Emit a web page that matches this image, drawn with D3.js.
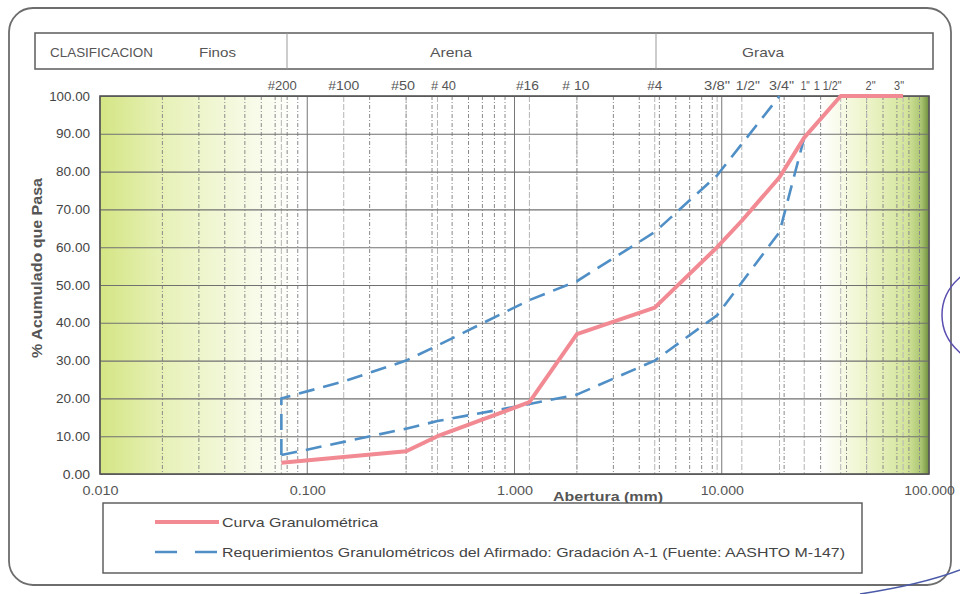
<!DOCTYPE html>
<html>
<head>
<meta charset="utf-8">
<script src="https://cdn.jsdelivr.net/npm/d3@7"></script>
<style>
  body { margin: 0; background: #fff; }
  svg { display: block; font-family: "Liberation Sans", Arial, sans-serif; }
</style>
</head>
<body>
<div id="chart"></div>
<script>
// sieve sizes (mm) and their names along the top
var sieveLabels = ["#200", "#100", "#50", "# 40", "#16", "# 10", "#4", "3/8\"", "1/2\"", "3/4\"", "1\"", "1 1/2\"", "2\"", "3\""];
var sieveSizes = [0.075, 0.15, 0.3, 0.425, 1.18, 2.0, 4.75, 9.5, 12.5, 19, 25, 37.5, 50, 75];

// Curva Granulometrica
var curveSizes = [0.075, 0.15, 0.3, 0.425, 1.18, 2.0, 4.75, 9.5, 12.5, 19, 25, 37.5, 50, 75];
var curvePass = [3.0, 4.5, 6.0, 10.0, 19.0, 37.0, 44.0, 60.0, 67.0, 78.5, 89.0, 100, 100, 100];

// Requerimientos (upper and lower limits)
var upperSizes = [0.075, 0.075, 0.15, 0.3, 0.425, 1.18, 2.0, 4.75, 9.5, 19];
var upperPass = [5, 20, 24.5, 30, 34, 46, 51, 64, 79, 100];
var lowerSizes = [0.075, 0.15, 0.3, 0.425, 1.18, 2.0, 4.75, 9.5, 19, 25, 37.5];
var lowerPass = [5, 8.5, 12, 14, 18.5, 21, 30, 42, 64, 89, 100];

var yTicks = [0, 10, 20, 30, 40, 50, 60, 70, 80, 90, 100];
var xTicks = [0.01, 0.1, 1, 10, 100];

var classNames = ["CLASIFICACION", "Finos", "Arena", "Grava"];
var legendNames = ["Curva Granulométrica", "Requerimientos Granulométricos del Afirmado: Gradación A-1 (Fuente: AASHTO M-147)"];

var W = 960, H = 594;
var plot = { left: 100, right: 929, top: 96, bottom: 474 };

var svg = d3.select("#chart").append("svg")
    .attr("width", W)
    .attr("height", H);

var x = d3.scaleLog().domain([0.01, 100]).range([plot.left, plot.right]);
var y = d3.scaleLinear().domain([0, 100]).range([plot.bottom, plot.top]);

// the scan is a bit wide, so texts are stretched to the widths seen
function fit(sel, len) {
    sel.attr("textLength", len).attr("lengthAdjust", "spacingAndGlyphs");
}

// gradients for the shaded fines / gravel zones
var defs = svg.append("defs");
var gl = defs.append("linearGradient").attr("id", "gLeft");
gl.append("stop").attr("offset", "0%").attr("stop-color", "#d4e584");
gl.append("stop").attr("offset", "35%").attr("stop-color", "#e8f2bb");
gl.append("stop").attr("offset", "100%").attr("stop-color", "#ffffff");
var gr = defs.append("linearGradient").attr("id", "gRight");
gr.append("stop").attr("offset", "0%").attr("stop-color", "#ffffff");
gr.append("stop").attr("offset", "40%").attr("stop-color", "#eef5cc");
gr.append("stop").attr("offset", "80%").attr("stop-color", "#d3e49a");
gr.append("stop").attr("offset", "93%").attr("stop-color", "#a9c470");
gr.append("stop").attr("offset", "100%").attr("stop-color", "#6f8f3e");

// outer frame
svg.append("rect")
    .attr("x", 9).attr("y", 8).attr("width", 942).attr("height", 577)
    .attr("rx", 24)
    .attr("fill", "none").attr("stroke", "#6d6d6d").attr("stroke-width", 1.8);

// classification box
svg.append("rect")
    .attr("x", 35).attr("y", 33).attr("width", 898).attr("height", 36)
    .attr("fill", "#fff").attr("stroke", "#666").attr("stroke-width", 1.6);
[287, 656].forEach(function (d) {
    svg.append("line").attr("x1", d).attr("x2", d).attr("y1", 33).attr("y2", 69)
        .attr("stroke", "#999").attr("stroke-width", 1);
});
var classX = [50, 199, 430, 742];
var classW = [103, 37, 42, 42];
classNames.forEach(function (t, i) {
    svg.append("text").attr("x", classX[i]).attr("y", 57)
        .attr("font-size", i == 0 ? 12 : 13.5)
        .attr("fill", "#555").text(t)
        .call(fit, classW[i]);
});

// background shading
svg.append("rect")
    .attr("x", plot.left).attr("y", plot.top)
    .attr("width", plot.right - plot.left).attr("height", plot.bottom - plot.top)
    .attr("fill", "#fff");
svg.append("rect")
    .attr("x", x(0.01)).attr("y", plot.top)
    .attr("width", x(0.09) - x(0.01)).attr("height", plot.bottom - plot.top)
    .attr("fill", "url(#gLeft)");
svg.append("rect")
    .attr("x", x(30)).attr("y", plot.top)
    .attr("width", x(100) - x(30)).attr("height", plot.bottom - plot.top)
    .attr("fill", "url(#gRight)");

// log minor grid (dashed)
svg.append("g").selectAll("line")
    .data(x.ticks().filter(function (d) { return xTicks.indexOf(d) < 0; }))
    .enter().append("line")
    .attr("x1", function (d) { return x(d); })
    .attr("x2", function (d) { return x(d); })
    .attr("y1", plot.top).attr("y2", plot.bottom)
    .attr("stroke", "#8a8a8a").attr("stroke-width", 1)
    .attr("stroke-dasharray", "4,2,1,2");

// sieve lines
svg.append("g").selectAll("line")
    .data(sieveSizes)
    .enter().append("line")
    .attr("x1", function (d) { return x(d); })
    .attr("x2", function (d) { return x(d); })
    .attr("y1", plot.top).attr("y2", plot.bottom)
    .attr("stroke", "#b5b5b5").attr("stroke-width", 1)
    .attr("stroke-dasharray", "6,2");

// decade lines
svg.append("g").selectAll("line")
    .data(xTicks)
    .enter().append("line")
    .attr("x1", function (d) { return x(d); })
    .attr("x2", function (d) { return x(d); })
    .attr("y1", plot.top).attr("y2", plot.bottom)
    .attr("stroke", "#777").attr("stroke-width", 1);

// y axis with horizontal grid
var yAxis = svg.append("g")
    .attr("transform", "translate(" + plot.left + ",0)")
    .call(d3.axisLeft(y).tickValues(yTicks)
        .tickFormat(d3.format(".2f"))
        .tickSize(-(plot.right - plot.left)).tickPadding(10));
yAxis.select(".domain").remove();
yAxis.selectAll(".tick line").attr("stroke", "#707070").attr("stroke-width", 1.1);
yAxis.selectAll(".tick text").attr("font-size", 13).attr("fill", "#444")
    .attr("font-family", "Liberation Sans, Arial, sans-serif")
    .each(function () {
        var t = d3.select(this);
        t.call(fit, t.text().length * 6.8);
    });

// x axis labels
var xAxis = svg.append("g")
    .attr("transform", "translate(0," + plot.bottom + ")")
    .call(d3.axisBottom(x).tickValues(xTicks)
        .tickFormat(d3.format(".3f")).tickSize(0).tickPadding(12));
xAxis.select(".domain").remove();
xAxis.selectAll(".tick text").attr("font-size", 12.5).attr("fill", "#555")
    .attr("font-family", "Liberation Sans, Arial, sans-serif")
    .each(function () {
        var t = d3.select(this);
        t.call(fit, t.text().length * 7.2);
    });

// plot border
svg.append("rect")
    .attr("x", plot.left).attr("y", plot.top)
    .attr("width", plot.right - plot.left).attr("height", plot.bottom - plot.top)
    .attr("fill", "none").attr("stroke", "#555").attr("stroke-width", 1.6);

// sieve labels on top
var sieveShift = [1, 0, -3, 6, -2, -1, 0, 0, 6, 2, 1, -13, 4, -4];
var sieveW = [29, 31, 24, 25, 23, 27, 15, 26, 24, 25, 9, 28, 10, 10];
svg.append("g").selectAll("text")
    .data(sieveSizes)
    .enter().append("text")
    .attr("x", function (d, i) { return x(d) + sieveShift[i]; })
    .attr("y", 90)
    .attr("text-anchor", "middle")
    .attr("font-size", 12).attr("fill", "#555")
    .text(function (d, i) { return sieveLabels[i]; })
    .each(function (d, i) {
        d3.select(this).call(fit, sieveW[i]);
    });

// axis titles
svg.append("text")
    .attr("x", 553).attr("y", 501)
    .attr("font-size", 13).attr("font-weight", "bold").attr("fill", "#555")
    .text("Abertura (mm)")
    .call(fit, 110);
svg.append("text")
    .attr("transform", "translate(42,268) rotate(-90)")
    .attr("text-anchor", "middle")
    .attr("font-size", 14).attr("font-weight", "bold").attr("fill", "#555")
    .text("% Acumulado que Pasa")
    .call(fit, 180);

// lines
var line = d3.line()
    .x(function (d) { return x(d[0]); })
    .y(function (d) { return y(d[1]); });

var blue = "#4f8fc6", pink = "#f28a93";

svg.append("path")
    .datum(d3.zip(upperSizes, upperPass))
    .attr("d", line)
    .attr("fill", "none").attr("stroke", blue).attr("stroke-width", 2.6)
    .attr("stroke-dasharray", "16,9");
svg.append("path")
    .datum(d3.zip(lowerSizes, lowerPass))
    .attr("d", line)
    .attr("fill", "none").attr("stroke", blue).attr("stroke-width", 2.6)
    .attr("stroke-dasharray", "16,9");
svg.append("path")
    .datum(d3.zip(curveSizes, curvePass))
    .attr("d", line)
    .attr("fill", "none").attr("stroke", pink).attr("stroke-width", 4)
    .attr("stroke-linejoin", "round");

// legend
svg.append("rect")
    .attr("x", 103).attr("y", 503).attr("width", 759).attr("height", 70)
    .attr("fill", "#fff").attr("stroke", "#555").attr("stroke-width", 1.4);
svg.append("line")
    .attr("x1", 155).attr("x2", 219).attr("y1", 522).attr("y2", 522)
    .attr("stroke", pink).attr("stroke-width", 4);
svg.append("line")
    .attr("x1", 155).attr("x2", 219).attr("y1", 552).attr("y2", 552)
    .attr("stroke", blue).attr("stroke-width", 2.6).attr("stroke-dasharray", "22,18");
var legendW = [156, 623];
legendNames.forEach(function (t, i) {
    svg.append("text")
        .attr("x", 222).attr("y", 527 + i * 30)
        .attr("font-size", 13.5).attr("fill", "#444")
        .text(t)
        .call(fit, legendW[i]);
});

// stamp remnants on the right edge
svg.append("ellipse")
    .attr("cx", 1000).attr("cy", 315).attr("rx", 58).attr("ry", 52)
    .attr("fill", "none").attr("stroke", "#5a4fb0").attr("stroke-width", 1.5);
svg.append("path")
    .attr("d", "M860,594 Q920,585 960,570")
    .attr("fill", "none").attr("stroke", "#4a5aa8").attr("stroke-width", 1.5);
</script>
</body>
</html>
